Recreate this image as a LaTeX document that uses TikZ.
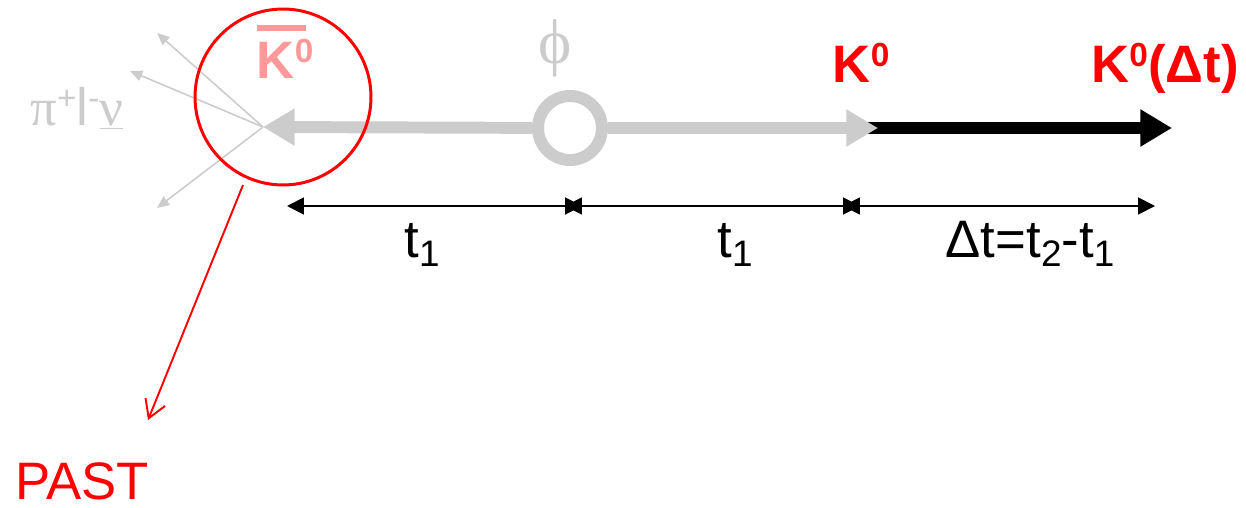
\documentclass[tikz,border=0pt]{standalone}
\usepackage{fontspec}
\setmainfont{Liberation Sans}
\newfontfamily\greekserif{Liberation Serif}
\usetikzlibrary{calc, shapes, arrows, arrows.meta}
\definecolor{lightgrey}{HTML}{CCCCCC}
\definecolor{paleRed}{HTML}{FF9999}
\newcommand{\zsup}[1]{\raisebox{9pt}{\fontsize{19}{19}\selectfont #1}}
\newcommand{\zsub}[1]{\raisebox{-5.5pt}{\fontsize{21}{21}\selectfont #1}}
\newcommand{\kbarbar}{\makebox[0pt][l]{\rule[0.9em]{0.94em}{0.11em}}}

\begin{document}
\begin{tikzpicture}[x=0.02cm, y=-0.02cm]
\tikzstyle{track}=[draw, line width=6.8pt, -{Triangle[length=18pt,width=20pt]}]
\tikzstyle{decay}=[draw, lightgrey, line width=0.9pt, -{Triangle[length=7pt,width=6pt]}]
\tikzstyle{span}=[draw, line width=1.1pt, {Triangle[length=9.6pt,width=9.6pt]}-{Triangle[length=9.6pt,width=9.6pt]}]
\tikzstyle{label}=[font=\fontsize{30}{36}\selectfont, inner sep=0pt, anchor=base]
\tikzstyle{ring}=[circle, draw=lightgrey, line width=6.8pt, minimum size=1.28cm, inner sep=0pt]
\useasboundingbox (0,0) rectangle (1246,507);
% decay vertex and track
\coordinate (V) at (263,127);
\coordinate (K_start) at (860,128);
\coordinate (K_0) at (878,128);
\coordinate (End) at (1172,128);
\path [track, black] (K_start) -- (End);
\node[ring] (Phi) at (570,128) {};
\path [track, lightgrey] (Phi) -- (V);
\path [track, lightgrey] (Phi) -- (K_0);
% decay products
\coordinate (D_1) at (157,33);
\coordinate (D_2) at (130,71);
\coordinate (D_3) at (157,208);
\path [decay] (V) -- (D_1);
\path [decay] (V) -- (D_2);
\path [decay] (V) -- (D_3);
% past
\node[circle, draw=red, line width=1.7pt, minimum size=3.52cm, inner sep=0pt] (Past) at (283,97) {};
\coordinate (Past_tail) at (243,185);
\coordinate (Past_tip) at (148,420);
\path [draw, red, line width=1.1pt, -{Straight Barb[length=10pt,width=12pt]}] (Past_tail) -- (Past_tip);
% time axis
\coordinate (T_0) at (287,206);
\coordinate (T_1a) at (565,206);
\coordinate (T_1b) at (582,206);
\coordinate (T_2a) at (843,206);
\coordinate (T_2b) at (860,206);
\coordinate (T_3) at (1155,206);
\path [span] (T_0) -- (T_1b);
\path [span] (T_1a) -- (T_2b);
\path [span] (T_2a) -- (T_3);
% labels
\node[label, text=paleRed, font=\fontsize{30}{36}\selectfont\bfseries] (Kbar) at (285,78) {\kbarbar K\zsup{0}};
\node[label, text=lightgrey, font=\fontsize{36}{40}\greekserif, anchor=center] (Phi_lab) at (555,48) {ϕ};
\node[label, text=red, font=\fontsize{30}{36}\selectfont\bfseries] (K0_lab) at (861,82) {K\zsup{0}};
\node[label, text=red, font=\fontsize{30}{36}\selectfont\bfseries] (Kdt_lab) at (1165,82) {K\zsup{0}(Δt)};
\node[label, text=lightgrey] (Pi_lab) at (77,125) {{\greekserif π}\zsup{+}l\zsup{-}{\greekserif\underline{ν}}};
\node[label] (t_a) at (422,257) {t\zsub{1}};
\node[label] (t_b) at (735,257) {t\zsub{1}};
\node[label] (dt) at (1030,257) {Δt=t\zsub{2}-t\zsub{1}};
\node[label, text=red] (Past_lab) at (82,499) {PAST};
\end{tikzpicture}
\end{document}
